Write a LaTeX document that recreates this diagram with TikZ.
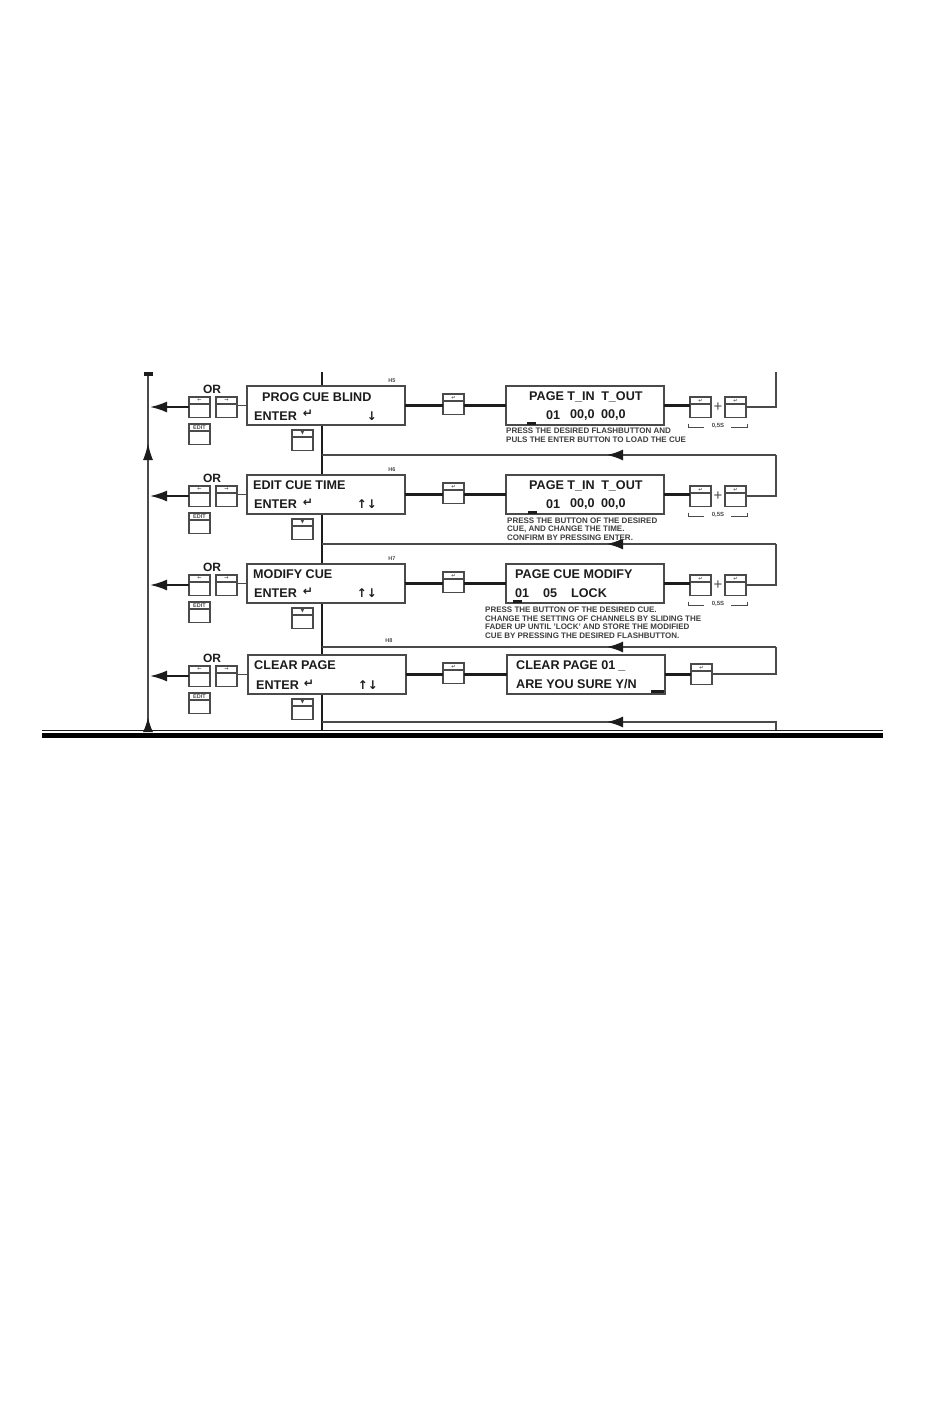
\documentclass[tikz,border=0pt]{standalone}
\usepackage{fontspec}
\setmainfont{Liberation Sans}
\newfontfamily\djv{DejaVu Sans}
\usetikzlibrary{arrows.meta,calc}
\definecolor{ink}{HTML}{1C1C1C}
\definecolor{frame}{HTML}{4A4A4A}
\tikzset{
  x=1pt,y=-1pt,
  lcd/.style={draw=frame,line width=1.4pt,fill=white,anchor=north west,minimum width=158pt,minimum height=39pt,inner sep=0pt,outer sep=0pt},
  btnbox/.style={draw=frame,line width=1.5pt,fill=white,anchor=north west,minimum width=21pt,minimum height=20.5pt,inner sep=0pt,outer sep=0pt},
  big/.style={anchor=west,inner sep=0pt,text=ink,font=\bfseries\fontsize{12.6}{13}\selectfont},
  orlab/.style={anchor=center,inner sep=0pt,text=ink,font=\bfseries\fontsize{12}{13}\selectfont},
  note/.style={anchor=west,inner sep=0pt,text=ink!85,font=\bfseries\fontsize{8}{9}\selectfont},
  tiny/.style={anchor=center,inner sep=0pt,text=ink!80,font=\bfseries\fontsize{5.5}{6}\selectfont},
  sym/.style={anchor=center,inner sep=0pt,text=ink,font=\djv\bfseries\fontsize{12}{13}\selectfont},
  thick line/.style={draw=ink,line width=2.2pt},
  thin line/.style={draw=frame,line width=1.6pt},
  main line/.style={draw=ink,line width=2.4pt},
  rail/.style={draw=frame,line width=1.6pt},
  into/.style={-{Latex[length=17pt,width=11pt,color=ink]},draw=ink,line width=2pt},
  back/.style={-{Latex[length=16pt,width=11pt,color=ink]},draw=frame,line width=1.6pt},
  cursor/.style={fill=ink,draw=none,minimum width=9pt,minimum height=2.5pt,inner sep=0pt,anchor=north west}
}
% #1 name, #2 position, #3 label
\newcommand{\btn}[3]{%
  \node[btnbox] (#1) at (#2) {};
  \draw[frame,line width=1.2pt] ([yshift=-7pt]#1.north west) -- ([yshift=-7pt]#1.north east);
  \node[tiny] at ([yshift=-3.5pt]#1.north) {#3};
}
\newcommand{\ent}{{\djv\bfseries\fontsize{5}{5}\selectfont ↵}}
\newcommand{\lft}{{\djv\bfseries\fontsize{5}{5}\selectfont ←}}
\newcommand{\rgt}{{\djv\bfseries\fontsize{5}{5}\selectfont →}}
\newcommand{\dwn}{{\djv\bfseries\fontsize{5}{5}\selectfont ▼}}
% #1 row, #2 y of the LCD top, #3 x of first LCD, #4 x of second LCD
\newcommand{\rowparts}[4]{%
  \node[lcd] (a#1) at (#3,#2) {};
  \node[lcd] (b#1) at (#4,#2) {};
  \btn{l#1}{189,#2+11}{\lft}
  \btn{r#1}{216,#2+11}{\rgt}
  \btn{e#1}{189,#2+38}{EDIT}
  \btn{d#1}{292,#2+44}{\dwn}
  \btn{n#1}{443,#2+8}{\ent}
  \node[orlab] at (212,#2+3) {OR};
  \coordinate (m#1) at (150,#2+21);
  \draw[thin line] (r#1.east |- a#1.west) -- (a#1.west);
  \draw[into] (l#1.west |- m#1) -- (m#1);
  \draw[thick line] (a#1.east) -- (n#1.west |- a#1.east);
  \draw[thick line] (n#1.east |- b#1.west) -- (b#1.west);
}
\begin{document}
\begin{tikzpicture}
\useasboundingbox (0,0) rectangle (950,1420);
\fill[white] (0,0) rectangle (950,1420);
% trunk lines
\coordinate (ltop) at (148,373);
\coordinate (lbot) at (148,730);
\coordinate (ctop) at (322,372);
\coordinate (cbot) at (322,730);
\coordinate (rtop) at (776,372);
\coordinate (railA) at (776,455);
\coordinate (railB) at (776,544);
\coordinate (railC) at (776,647);
\coordinate (railD) at (776,722);
\coordinate (railDb) at (776,730);
\coordinate (cA) at (322,455);
\coordinate (cB) at (322,544);
\coordinate (cC) at (322,647);
\coordinate (cD) at (322,722);
\coordinate (ruleL) at (42,730);
\coordinate (ruleR) at (883,730);
\coordinate (ruleLb) at (42,735);
\coordinate (ruleRb) at (883,735);
\draw[rail] (ltop) -- (lbot);
\node[fill=ink,minimum width=9pt,minimum height=4pt,inner sep=0pt] (ltopcap) at (148,373.5) {};
\draw[-{Latex[length=17pt,width=10pt,color=ink]},draw=frame,line width=1.6pt] (148,470) -- (148,443);
\draw[-{Latex[length=15pt,width=10pt,color=ink]},draw=frame,line width=1.6pt] (lbot) -- (148,717);
\draw[main line] (ctop) -- (cbot);
% return lines
\draw[rail] (cA) -- (railA);
\draw[rail] (cB) -- (railB);
\draw[rail] (cC) -- (railC);
\draw[rail] (cD) -- (railD) -- (railDb);
\draw[back] (railA) -- (607,455);
\draw[back] (railB) -- (607,544);
\draw[back] (railC) -- (607,647);
\draw[back] (railD) -- (607,722);
% rows
\rowparts{1}{386}{247}{506}
\rowparts{2}{475}{247}{506}
\rowparts{3}{564}{247}{506}
\rowparts{4}{655}{248}{507}
% double buttons
\btn{p1}{690,397}{\ent}\btn{q1}{725,397}{\ent}
\btn{p2}{690,486}{\ent}\btn{q2}{725,486}{\ent}
\btn{p3}{690,575}{\ent}\btn{q3}{725,575}{\ent}
\btn{p4}{691,664}{\ent}
\foreach \i in {1,2,3}{
  \draw[thick line] (b\i.east) -- (p\i.west |- b\i.east);
  \node[anchor=center,inner sep=0pt,text=frame,font=\fontsize{15}{15}\selectfont] (plus\i) at ($(p\i.east)!.5!(q\i.west)$) {+};
  \node[tiny,font=\bfseries\fontsize{6}{6}\selectfont] (t\i) at ($(p\i.south east)!.5!(q\i.south west)+(0,8)$) {0,5S};
  \draw[frame,line width=.9pt] ([xshift=-2pt,yshift=-6pt]p\i.south west) -- ++(0,3.5) -- ++(16,0);
  \draw[frame,line width=.9pt] ([xshift=1pt,yshift=-6pt]q\i.south east) -- ++(0,3.5) -- ++(-16,0);
}
\draw[thick line] (b4.east) -- (p4.west |- b4.east);
\draw[thin line] (q1.east) -- (q1.east -| rtop) -- (rtop);
\draw[thin line] (q2.east) -- (q2.east -| railA) -- (railA);
\draw[thin line] (q3.east) -- (q3.east -| railB) -- (railB);
\draw[thin line] (p4.east) -- (p4.east -| railC) -- (railC);
% LCD texts
\node[big] at (262,397) {PROG CUE BLIND};
\node[big] at (254,416) {ENTER};
\node[sym] at (308,414) {↵};
\node[sym] at (372,416) {↓};
\node[big] at (253,485) {EDIT CUE TIME};
\node[big] at (254,504.5) {ENTER};
\node[sym] at (308,502.5) {↵};
\node[sym] at (362,504) {↑};
\node[sym] at (372,504) {↓};
\node[big] at (253,574.5) {MODIFY CUE};
\node[big] at (254,593) {ENTER};
\node[sym] at (308,591.5) {↵};
\node[sym] at (362,593) {↑};
\node[sym] at (372,593) {↓};
\node[big] at (254,665.5) {CLEAR PAGE};
\node[big] at (256,685) {ENTER};
\node[sym] at (309,683.5) {↵};
\node[sym] at (363,685) {↑};
\node[sym] at (373,685) {↓};
\node[big] at (529,397) {PAGE T\_IN\hspace{3pt} T\_OUT};
\node[big] at (546,415) {01};
\node[big] at (570,415) {00,0};
\node[big] at (601,415) {00,0};
\node[cursor] at (527,422) {};
\node[big] at (529,486) {PAGE T\_IN\hspace{3pt} T\_OUT};
\node[big] at (546,504) {01};
\node[big] at (570,504) {00,0};
\node[big] at (601,504) {00,0};
\node[cursor] at (528,511) {};
\node[big] at (515,574.5) {PAGE CUE MODIFY};
\node[big] at (515,593) {01};
\node[big] at (543,593) {05};
\node[big] at (571,593) {LOCK};
\node[cursor] at (513,600) {};
\node[big] at (516,665.5) {CLEAR PAGE 01\hspace{3pt}\_};
\node[big] at (516,684) {ARE YOU SURE Y/N};
\node[cursor,minimum width=13pt] at (651,690) {};
% step marks
\node[tiny] at (392,381) {H5};
\node[tiny] at (392,470) {H6};
\node[tiny] at (392,559) {H7};
\node[tiny] at (389,641) {H8};
% notes
\node[note] at (506,431) {PRESS THE DESIRED FLASHBUTTON AND};
\node[note] at (506,440) {PULS THE ENTER BUTTON TO LOAD THE CUE};
\node[note] at (507,520.5) {PRESS THE BUTTON OF THE DESIRED};
\node[note] at (507,529) {CUE, AND CHANGE THE TIME.};
\node[note] at (507,538) {CONFIRM BY PRESSING ENTER.};
\node[note] at (485,610) {PRESS THE BUTTON OF THE DESIRED CUE.};
\node[note] at (485,618.5) {CHANGE THE SETTING OF CHANNELS BY SLIDING THE};
\node[note] at (485,627) {FADER UP UNTIL 'LOCK' AND STORE THE MODIFIED};
\node[note] at (485,636) {CUE BY PRESSING THE DESIRED FLASHBUTTON.};
% page rule
\draw[ink,line width=1pt] (ruleL) -- (ruleR);
\draw[black,line width=5pt] (ruleLb) -- (ruleRb);
\end{tikzpicture}
\end{document}
